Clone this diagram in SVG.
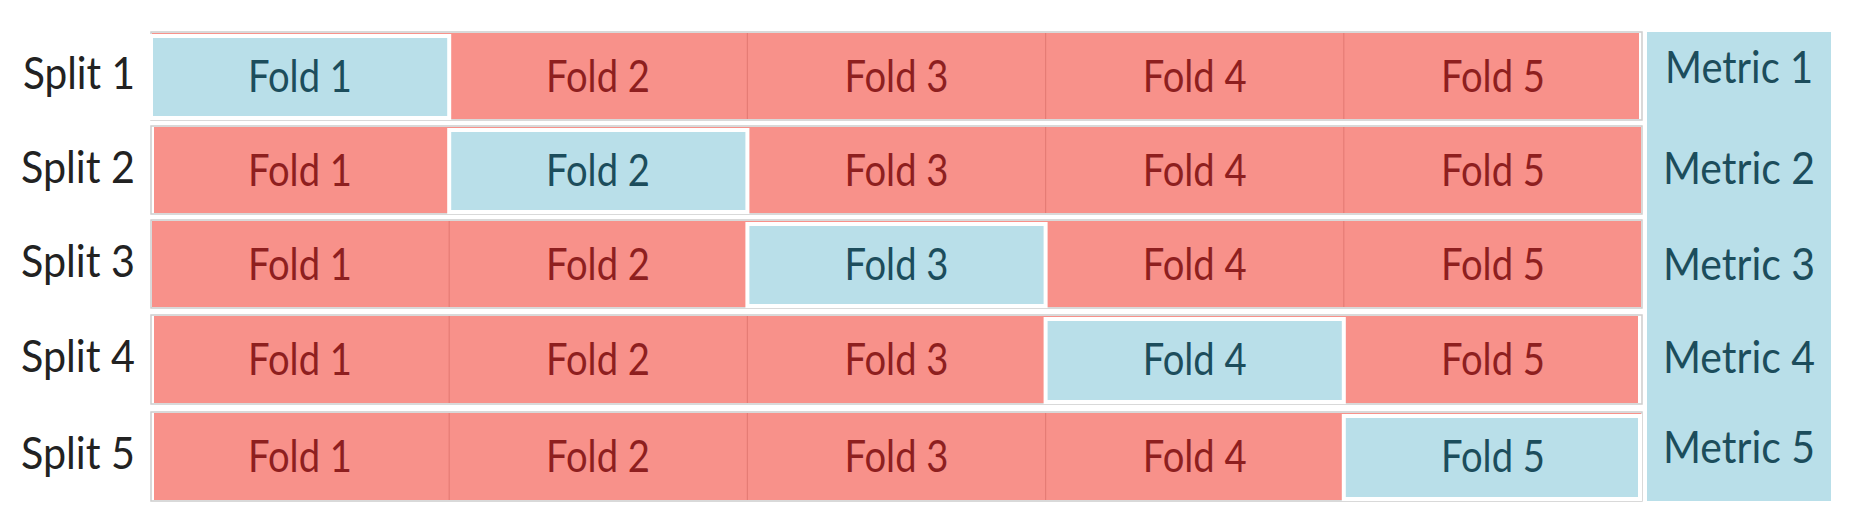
<svg xmlns="http://www.w3.org/2000/svg" width="1852" height="526" viewBox="0 0 1852 526">
<style>
.bg{fill:#ffffff}
.frame{fill:#ffffff;stroke:#cdcdcd;stroke-width:1.5}
.red{fill:#f8918a}
.sep{stroke:#e57c75;stroke-width:1.2}
.blue{fill:#b9dfe9;stroke:#ffffff;stroke-width:4}
.metricbox{fill:#b9dfe9}
text{font-family:Lato,"Open Sans","Liberation Sans",sans-serif;font-size:44px}
.ft{text-anchor:middle;fill:#8e1f1f}
.fb{text-anchor:middle;fill:#1c4d5c}
.split{text-anchor:end;fill:#222222}
.metric{text-anchor:middle;fill:#1c4d5c}
</style>
<rect class="bg" x="0" y="0" width="1852" height="526"/>

<g id="labels">
<text class="split" x="135" y="89" textLength="112" lengthAdjust="spacingAndGlyphs">Split 1</text>
<text class="split" x="135" y="183" textLength="114" lengthAdjust="spacingAndGlyphs">Split 2</text>
<text class="split" x="135" y="277" textLength="114" lengthAdjust="spacingAndGlyphs">Split 3</text>
<text class="split" x="135" y="372" textLength="114" lengthAdjust="spacingAndGlyphs">Split 4</text>
<text class="split" x="135" y="469" textLength="114" lengthAdjust="spacingAndGlyphs">Split 5</text>
</g>

<g id="split1">
<rect class="frame" x="151" y="32" width="1491" height="88"/>
<rect class="red" x="152" y="33" width="1487" height="86"/>
<line class="sep" x1="747.4" y1="33" x2="747.4" y2="119"/>
<line class="sep" x1="1045.6" y1="33" x2="1045.6" y2="119"/>
<line class="sep" x1="1343.8" y1="33" x2="1343.8" y2="119"/>
<rect class="blue" x="151" y="36" width="298.2" height="82"/>
<g id="s1f1"><text class="fb" x="300" y="92" textLength="104" lengthAdjust="spacingAndGlyphs">Fold 1</text></g>
<g id="s1f2"><text class="ft" x="598" y="92" textLength="104" lengthAdjust="spacingAndGlyphs">Fold 2</text></g>
<g id="s1f3"><text class="ft" x="896.5" y="92" textLength="104" lengthAdjust="spacingAndGlyphs">Fold 3</text></g>
<g id="s1f4"><text class="ft" x="1194.7" y="92" textLength="104" lengthAdjust="spacingAndGlyphs">Fold 4</text></g>
<g id="s1f5"><text class="ft" x="1493" y="92" textLength="104" lengthAdjust="spacingAndGlyphs">Fold 5</text></g>
</g>

<g id="split2">
<rect class="frame" x="151" y="126" width="1491" height="88"/>
<rect class="red" x="154" y="127" width="1487" height="86"/>
<line class="sep" x1="1045.6" y1="127" x2="1045.6" y2="213"/>
<line class="sep" x1="1343.8" y1="127" x2="1343.8" y2="213"/>
<rect class="blue" x="449.2" y="130" width="298.2" height="82"/>
<g id="s2f1"><text class="ft" x="300" y="186" textLength="104" lengthAdjust="spacingAndGlyphs">Fold 1</text></g>
<g id="s2f2"><text class="fb" x="598" y="186" textLength="104" lengthAdjust="spacingAndGlyphs">Fold 2</text></g>
<g id="s2f3"><text class="ft" x="896.5" y="186" textLength="104" lengthAdjust="spacingAndGlyphs">Fold 3</text></g>
<g id="s2f4"><text class="ft" x="1194.7" y="186" textLength="104" lengthAdjust="spacingAndGlyphs">Fold 4</text></g>
<g id="s2f5"><text class="ft" x="1493" y="186" textLength="104" lengthAdjust="spacingAndGlyphs">Fold 5</text></g>
</g>

<g id="split3">
<rect class="frame" x="151" y="220" width="1491" height="88"/>
<rect class="red" x="152" y="221" width="1489" height="86"/>
<line class="sep" x1="449.2" y1="221" x2="449.2" y2="307"/>
<line class="sep" x1="1343.8" y1="221" x2="1343.8" y2="307"/>
<rect class="blue" x="747.4" y="224" width="298.2" height="82"/>
<g id="s3f1"><text class="ft" x="300" y="280" textLength="104" lengthAdjust="spacingAndGlyphs">Fold 1</text></g>
<g id="s3f2"><text class="ft" x="598" y="280" textLength="104" lengthAdjust="spacingAndGlyphs">Fold 2</text></g>
<g id="s3f3"><text class="fb" x="896.5" y="280" textLength="104" lengthAdjust="spacingAndGlyphs">Fold 3</text></g>
<g id="s3f4"><text class="ft" x="1194.7" y="280" textLength="104" lengthAdjust="spacingAndGlyphs">Fold 4</text></g>
<g id="s3f5"><text class="ft" x="1493" y="280" textLength="104" lengthAdjust="spacingAndGlyphs">Fold 5</text></g>
</g>

<g id="split4">
<rect class="frame" x="151" y="315" width="1491" height="89"/>
<rect class="red" x="154" y="316" width="1484" height="87"/>
<line class="sep" x1="449.2" y1="316" x2="449.2" y2="403"/>
<line class="sep" x1="747.4" y1="316" x2="747.4" y2="403"/>
<rect class="blue" x="1045.6" y="319" width="298.2" height="83"/>
<g id="s4f1"><text class="ft" x="300" y="375" textLength="104" lengthAdjust="spacingAndGlyphs">Fold 1</text></g>
<g id="s4f2"><text class="ft" x="598" y="375" textLength="104" lengthAdjust="spacingAndGlyphs">Fold 2</text></g>
<g id="s4f3"><text class="ft" x="896.5" y="375" textLength="104" lengthAdjust="spacingAndGlyphs">Fold 3</text></g>
<g id="s4f4"><text class="fb" x="1194.7" y="375" textLength="104" lengthAdjust="spacingAndGlyphs">Fold 4</text></g>
<g id="s4f5"><text class="ft" x="1493" y="375" textLength="104" lengthAdjust="spacingAndGlyphs">Fold 5</text></g>
</g>

<g id="split5">
<rect class="frame" x="151" y="412" width="1491" height="89"/>
<rect class="red" x="154" y="413" width="1487" height="87"/>
<line class="sep" x1="449.2" y1="413" x2="449.2" y2="500"/>
<line class="sep" x1="747.4" y1="413" x2="747.4" y2="500"/>
<line class="sep" x1="1045.6" y1="413" x2="1045.6" y2="500"/>
<rect class="blue" x="1343.8" y="416" width="296.2" height="83"/>
<g id="s5f1"><text class="ft" x="300" y="472" textLength="104" lengthAdjust="spacingAndGlyphs">Fold 1</text></g>
<g id="s5f2"><text class="ft" x="598" y="472" textLength="104" lengthAdjust="spacingAndGlyphs">Fold 2</text></g>
<g id="s5f3"><text class="ft" x="896.5" y="472" textLength="104" lengthAdjust="spacingAndGlyphs">Fold 3</text></g>
<g id="s5f4"><text class="ft" x="1194.7" y="472" textLength="104" lengthAdjust="spacingAndGlyphs">Fold 4</text></g>
<g id="s5f5"><text class="fb" x="1493" y="472" textLength="104" lengthAdjust="spacingAndGlyphs">Fold 5</text></g>
</g>

<g id="metrics">
<rect class="metricbox" x="1647" y="32" width="184" height="469"/>
<text class="metric" x="1739" y="83" textLength="148" lengthAdjust="spacingAndGlyphs">Metric 1</text>
<text class="metric" x="1739" y="184" textLength="152" lengthAdjust="spacingAndGlyphs">Metric 2</text>
<text class="metric" x="1739" y="280" textLength="152" lengthAdjust="spacingAndGlyphs">Metric 3</text>
<text class="metric" x="1739" y="373" textLength="152" lengthAdjust="spacingAndGlyphs">Metric 4</text>
<text class="metric" x="1739" y="463" textLength="152" lengthAdjust="spacingAndGlyphs">Metric 5</text>
</g>
</svg>
